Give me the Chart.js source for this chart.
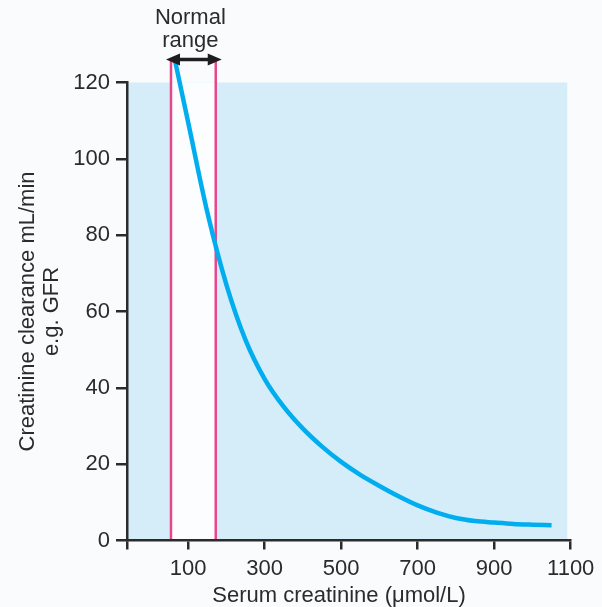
<!DOCTYPE html>
<html>
<head>
<meta charset="utf-8">
<script src="https://cdn.jsdelivr.net/npm/chart.js@4.4.1/dist/chart.umd.min.js"></script>
<style>
  html, body { margin: 0; padding: 0; background: #fafbfd; }
</style>
</head>
<body>
<canvas id="app" width="602" height="607"></canvas>
<script>
// serum creatinine (µmol/L) vs creatinine clearance (mL/min)
const creatinine = [65, 100, 150, 200, 250, 300, 350, 400, 450, 500, 550, 600, 650, 700, 750, 800, 850, 900, 950, 1000, 1050];
const clearance = [126, 109.5, 86, 67, 52.5, 42.3, 35, 29.3, 24.6, 20.6, 17.2, 14.3, 11.6, 9.2, 7.3, 5.9, 5.1, 4.7, 4.35, 4.15, 4.0];

const xTickValues = [-60, 100, 300, 500, 700, 900, 1100];
const yTickValues = [0, 20, 40, 60, 80, 100, 120];

const normalRange = [55, 172];   // the two pink lines
const shadedX = [-60, 1091];     // light blue panel
const shadedY = [0, 120];
const arrowLevel = 126;          // where the "Normal range" arrow sits

const xTitle = 'Serum creatinine (μmol/L)';
const yTitle = ['Creatinine clearance mL/min', 'e.g. GFR'];
const rangeLabel = ['Normal', 'range'];

const FONT = "'Liberation Sans', Arial, Helvetica, sans-serif";
const INK = '#2b2b2b';
const SIZE = 22;
Chart.defaults.font.family = FONT;
Chart.defaults.color = INK;

const decor = {
  id: 'decor',
  beforeDraw(chart) {
    const { ctx, scales: { x, y } } = chart;
    ctx.save();
    ctx.fillStyle = '#fafbfd';
    ctx.fillRect(0, 0, chart.width, chart.height);

    const top = y.getPixelForValue(shadedY[1]);
    const bottom = y.getPixelForValue(shadedY[0]);
    const left = x.getPixelForValue(shadedX[0]);
    const right = x.getPixelForValue(shadedX[1]);
    ctx.fillStyle = '#d5edf9';
    ctx.fillRect(left, top, right - left, bottom - top);

    const n0 = x.getPixelForValue(normalRange[0]);
    const n1 = x.getPixelForValue(normalRange[1]);
    ctx.fillStyle = '#fcfdfe';
    ctx.fillRect(n0, top, n1 - n0, bottom - top);

    const yTop = y.getPixelForValue(arrowLevel);
    ctx.strokeStyle = '#e8468b';
    ctx.lineWidth = 2.5;
    [n0, n1].forEach(px => {
      ctx.beginPath();
      ctx.moveTo(px, bottom);
      ctx.lineTo(px, yTop);
      ctx.stroke();
    });
    ctx.restore();
  },
  afterDraw(chart) {
    const { ctx, scales: { x, y } } = chart;
    const n0 = x.getPixelForValue(normalRange[0]);
    const n1 = x.getPixelForValue(normalRange[1]);
    const ay = y.getPixelForValue(arrowLevel);
    ctx.save();
    // double headed arrow
    ctx.strokeStyle = '#1e1e1e';
    ctx.fillStyle = '#1e1e1e';
    ctx.lineWidth = 3.5;
    ctx.beginPath();
    ctx.moveTo(n0 + 4, ay);
    ctx.lineTo(n1 - 4, ay);
    ctx.stroke();
    const head = (tip, dir) => {
      ctx.beginPath();
      ctx.moveTo(tip, ay);
      ctx.lineTo(tip + dir * 14, ay - 6);
      ctx.lineTo(tip + dir * 14, ay + 6);
      ctx.closePath();
      ctx.fill();
    };
    head(n0 - 5, 1);
    head(n1 + 6, -1);

    // labels
    ctx.font = SIZE + 'px ' + FONT;
    ctx.fillStyle = INK;
    ctx.textAlign = 'center';
    ctx.textBaseline = 'alphabetic';
    const mid = (n0 + n1) / 2 - 3;
    ctx.fillText(rangeLabel[0], mid, 24);
    ctx.fillText(rangeLabel[1], mid, 47);
    ctx.fillText(xTitle, 339, 601.5);
    ctx.restore();
  }
};

const points = creatinine.map((v, i) => ({ x: v, y: clearance[i] }));

new Chart(document.getElementById('app'), {
  type: 'scatter',
  data: {
    datasets: [{
      data: points,
      showLine: true,
      borderColor: '#00aeef',
      borderWidth: 4.5,
      pointRadius: 0,
      cubicInterpolationMode: 'monotone',
      clip: false,
      fill: false
    }]
  },
  options: {
    responsive: false,
    animation: false,
    layout: { padding: { top: 82.5, right: 31.3, left: 0, bottom: 0 } },
    plugins: { legend: { display: false }, tooltip: { enabled: false } },
    scales: {
      x: {
        type: 'linear',
        min: -60,
        max: 1100,
        afterBuildTicks: s => { s.ticks = xTickValues.map(v => ({ value: v })); },
        afterFit: s => { s.height = 66.5; },
        ticks: {
          callback: v => (v < 0 ? '' : v),
          font: { size: SIZE },
          color: INK,
          padding: 6.5,
          maxRotation: 0,
          autoSkip: false
        },
        grid: { drawOnChartArea: false, tickLength: 9, color: INK, lineWidth: 2.5 },
        border: { color: INK, width: 2.5 }
      },
      y: {
        type: 'linear',
        min: 0,
        max: 120,
        afterBuildTicks: s => { s.ticks = yTickValues.map(v => ({ value: v })); },
        afterFit: s => { s.width = 127; },
        ticks: { font: { size: SIZE }, color: INK, padding: 6 },
        grid: { drawOnChartArea: false, tickLength: 11, color: INK, lineWidth: 2.5 },
        border: { color: INK, width: 2.5 },
        title: {
          display: true,
          text: yTitle,
          color: INK,
          font: { size: SIZE, lineHeight: 24 / SIZE },
          padding: { top: 16, bottom: 0 }
        }
      }
    }
  },
  plugins: [decor]
});
</script>
</body>
</html>
